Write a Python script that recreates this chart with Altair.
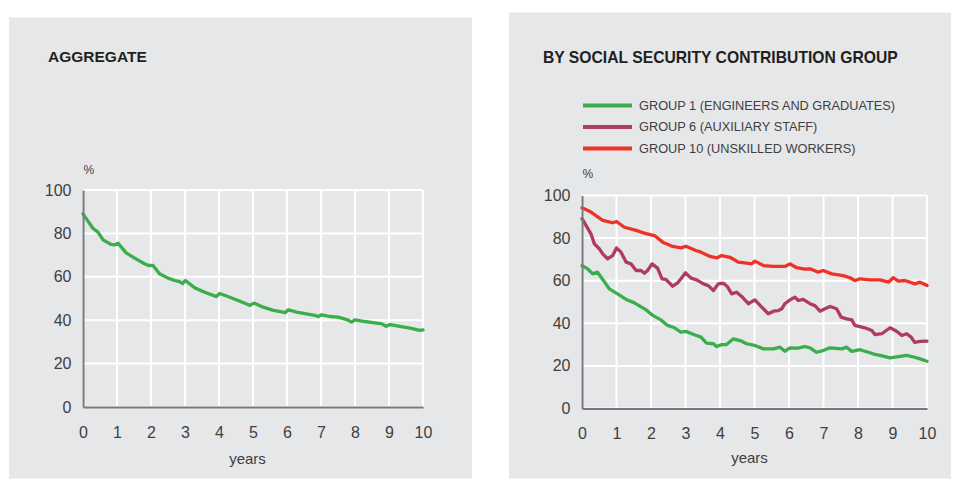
import altair as alt
import pandas as pd

LEFT_TITLE = "AGGREGATE"
RIGHT_TITLE = "BY SOCIAL SECURITY CONTRIBUTION GROUP"
X_LABEL = "years"
Y_LABEL = "%"
X_TICKS = list(range(0, 11))
Y_TICKS = [0, 20, 40, 60, 80, 100]

AGG_YEARS = [0, 0.29, 0.44, 0.59, 0.83, 0.93, 1.03, 1.27, 1.52, 1.81, 1.93, 2.06, 2.25, 2.5,
             2.7, 2.84, 2.93, 3.01, 3.29, 3.58, 3.89, 3.92, 4.02, 4.26, 4.56, 4.85, 4.91, 5.03,
             5.3, 5.6, 5.89, 5.94, 6.04, 6.28, 6.57, 6.82, 6.92, 7.02, 7.26, 7.5, 7.76, 7.9,
             8.0, 8.29, 8.64, 8.79, 8.91, 9.03, 9.32, 9.62, 9.91, 10.0]
AGG_VALUES = [89.0, 82.4, 80.6, 77.0, 74.9, 74.7, 75.5, 71.0, 68.6, 66.0, 65.2, 65.2, 61.4, 59.4,
              58.3, 57.8, 56.9, 58.3, 54.9, 52.9, 51.1, 50.9, 52.3, 50.9, 49.1, 47.2, 46.8, 47.9,
              46.0, 44.5, 43.7, 43.4, 44.8, 43.7, 42.9, 42.2, 41.7, 42.5, 41.7, 41.4, 40.3, 39.1,
              40.2, 39.4, 38.6, 38.3, 37.2, 38.0, 37.2, 36.3, 35.3, 35.5]

GROUP_NAMES = ["GROUP 1 (ENGINEERS AND GRADUATES)", "GROUP 6 (AUXILIARY STAFF)",
               "GROUP 10 (UNSKILLED WORKERS)"]
GROUP_COLORS = ["#39ae4a", "#b03a62", "#ee3326"]

G1_YEARS = [0, 0.16, 0.31, 0.45, 0.6, 0.79, 1.03, 1.28, 1.52, 1.86, 2.05, 2.29, 2.48, 2.68,
            2.87, 3.01, 3.26, 3.45, 3.61, 3.81, 3.9, 4.05, 4.19, 4.39, 4.63, 4.77, 5.01, 5.26,
            5.55, 5.74, 5.88, 6.03, 6.27, 6.46, 6.61, 6.8, 6.99, 7.19, 7.53, 7.67, 7.82, 8.06,
            8.3, 8.49, 8.64, 8.93, 9.17, 9.41, 9.56, 9.8, 10.0]
G1_VALUES = [67.1, 65.6, 63.2, 64.0, 60.6, 56.2, 53.8, 51.2, 49.6, 46.3, 43.7, 41.6, 39.0, 37.9,
             35.8, 36.2, 34.6, 33.5, 30.7, 30.4, 29.1, 30.0, 30.0, 32.7, 31.6, 30.4, 29.6, 28.0,
             28.0, 28.8, 26.9, 28.5, 28.3, 29.1, 28.5, 26.4, 27.2, 28.5, 28.0, 28.8, 26.8, 27.6,
             26.4, 25.4, 24.9, 23.8, 24.4, 24.9, 24.4, 23.3, 22.2]

G6_YEARS = [0, 0.12, 0.26, 0.36, 0.5, 0.6, 0.74, 0.89, 1.0, 1.13, 1.28, 1.42, 1.57, 1.71, 1.81,
            1.9, 2.03, 2.19, 2.32, 2.43, 2.63, 2.77, 2.87, 3.0, 3.16, 3.32, 3.52, 3.66, 3.81,
            3.95, 4.1, 4.21, 4.34, 4.48, 4.63, 4.82, 5.01, 5.21, 5.4, 5.55, 5.69, 5.79, 5.88,
            6.03, 6.17, 6.27, 6.41, 6.61, 6.75, 6.9, 7.04, 7.19, 7.38, 7.51, 7.67, 7.82, 7.91,
            8.2, 8.4, 8.49, 8.69, 8.93, 9.12, 9.27, 9.41, 9.54, 9.64, 9.8, 10.0]
G6_VALUES = [89.1, 85.9, 82.0, 77.3, 75.0, 72.6, 70.3, 71.8, 75.4, 73.4, 68.7, 67.9, 64.8, 64.8,
             63.5, 64.8, 67.9, 65.9, 60.9, 60.6, 57.4, 59.0, 60.9, 63.7, 61.2, 60.4, 58.5, 57.7,
             55.4, 58.5, 58.8, 57.3, 53.8, 54.6, 52.6, 49.2, 51.0, 47.6, 44.5, 45.7, 46.0, 46.8,
             49.2, 51.0, 52.3, 50.7, 51.2, 49.2, 48.3, 45.7, 46.8, 47.9, 46.8, 42.9, 42.1, 41.6,
             39.0, 37.9, 36.6, 34.7, 35.1, 37.9, 36.3, 34.3, 35.1, 33.5, 31.1, 31.5, 31.6]

G10_YEARS = [0, 0.26, 0.6, 0.89, 1.0, 1.23, 1.57, 1.81, 2.0, 2.1, 2.34, 2.63, 2.87, 3.01, 3.3,
             3.45, 3.71, 3.9, 4.05, 4.29, 4.53, 4.77, 4.92, 5.01, 5.26, 5.55, 5.88, 6.03, 6.22,
             6.46, 6.61, 6.85, 6.99, 7.24, 7.57, 7.77, 7.91, 8.06, 8.35, 8.64, 8.88, 9.02, 9.17,
             9.36, 9.65, 9.8, 10.0]
G10_VALUES = [94.2, 92.2, 88.3, 87.2, 87.8, 85.1, 83.6, 82.3, 81.5, 81.2, 78.1, 76.1, 75.4, 76.2,
              74.2, 73.4, 71.4, 70.7, 71.8, 71.0, 68.7, 68.2, 67.9, 69.2, 67.1, 66.7, 66.7, 67.9,
              66.1, 65.4, 65.6, 64.0, 64.8, 63.2, 62.4, 61.4, 60.1, 60.9, 60.4, 60.4, 59.3, 61.4,
              59.8, 60.1, 58.5, 59.3, 57.7]

FONT = "Liberation Sans"
BG = "#e6e7e8"
TEXT = "#404040"
DOMAIN = "#77787b"
GREEN = GROUP_COLORS[0]

agg_df = pd.DataFrame({"year": AGG_YEARS, "value": AGG_VALUES})
grp_df = pd.concat([
    pd.DataFrame({"year": G1_YEARS, "value": G1_VALUES, "group": GROUP_NAMES[0]}),
    pd.DataFrame({"year": G6_YEARS, "value": G6_VALUES, "group": GROUP_NAMES[1]}),
    pd.DataFrame({"year": G10_YEARS, "value": G10_VALUES, "group": GROUP_NAMES[2]}),
], ignore_index=True)

xs = alt.Scale(domain=[0, 10], nice=False, zero=False)
ys_left = alt.Scale(domain=[0, 100], nice=False)
# right plot: shares the row origin with the left one, its value range starts 5.5px lower
ys_right = alt.Scale(domain=[0, 100], nice=False, range=[218.5, 5.5])


def x_axis(title_x, title_y):
    return alt.Axis(values=X_TICKS, grid=False, ticks=False, tickSize=0, domainColor=DOMAIN,
                    domainWidth=2, labelFont=FONT, labelFontSize=16, labelColor=TEXT,
                    labelPadding=17, labelFlush=False, format="d", title=X_LABEL,
                    titleFont=FONT, titleFontSize=15, titleFontWeight="normal", titleColor=TEXT,
                    titleX=title_x, titleY=title_y, titleAlign="center",
                    titleBaseline="middle", zindex=1)


def y_axis(title_y):
    return alt.Axis(values=Y_TICKS, grid=False, ticks=False, tickSize=0, domainColor=DOMAIN,
                    domainWidth=2, labelFont=FONT, labelFontSize=16, labelColor=TEXT,
                    labelPadding=12, labelFlush=False, format="d", title=Y_LABEL,
                    titleFont=FONT, titleFontSize=12, titleFontWeight="normal", titleColor=TEXT,
                    titleAngle=0, titleX=0, titleY=title_y, titleAlign="left",
                    titleBaseline="middle", zindex=1)


def box(x1, x2, y1, y2, fill):
    return alt.Chart(pd.DataFrame({"a": [0]})).mark_rect(color=fill).encode(
        x=alt.value(x1), x2=alt.value(x2), y=alt.value(y1), y2=alt.value(y2))


def grids(ys):
    gx = alt.Chart(pd.DataFrame({"v": X_TICKS})).mark_rule(color="white", strokeWidth=2).encode(
        x=alt.X("v:Q", scale=xs, axis=None),
        y=alt.datum(Y_TICKS[-1], scale=ys, axis=None),
        y2=alt.datum(Y_TICKS[0]))
    gy = alt.Chart(pd.DataFrame({"v": Y_TICKS})).mark_rule(color="white", strokeWidth=2).encode(
        y=alt.Y("v:Q", scale=ys, axis=None))
    return gx, gy


def heading(text, x, y, size):
    return alt.Chart(pd.DataFrame({"t": [text]})).mark_text(
        align="left", baseline="middle", font=FONT, fontSize=size, fontWeight="bold",
        color="#231f20").encode(x=alt.value(x), y=alt.value(y), text="t:N")


# Left panel
gx1, gy1 = grids(ys_left)
left_line = alt.Chart(agg_df).mark_line(color=GREEN, strokeWidth=3.3, strokeJoin="round",
                                        strokeCap="round").encode(
    x=alt.X("year:Q", scale=xs, axis=x_axis(164, 51.5)),
    y=alt.Y("value:Q", scale=ys_left, axis=y_axis(-21)))
left = alt.layer(
    box(-74, 389, -172.5, 288.5, BG),
    gx1, gy1, left_line,
    heading(LEFT_TITLE, -35, -133.5, 15.5),
).resolve_axis(x="independent", y="independent").properties(width=340, height=217)

# Right panel
gx2, gy2 = grids(ys_right)
right_line = alt.Chart(grp_df).mark_line(strokeWidth=3.3, strokeJoin="round",
                                         strokeCap="round").encode(
    x=alt.X("year:Q", scale=xs, axis=x_axis(167, 49)),
    y=alt.Y("value:Q", scale=ys_right, axis=y_axis(-16.5)),
    color=alt.Color("group:N", scale=alt.Scale(domain=GROUP_NAMES, range=GROUP_COLORS),
                    legend=alt.Legend(orient="none", legendX=-1, legendY=-92.5,
                                      direction="vertical", title=None, symbolType="stroke",
                                      symbolStrokeWidth=4, symbolSize=2401, clipHeight=16,
                                      labelFont=FONT, labelFontSize=12.75, labelColor=TEXT,
                                      labelOffset=5, rowPadding=5.5, labelLimit=400,
                                      zindex=1)))
right = alt.layer(
    box(-73, 369, -177.5, 288.5, BG),
    gx2, gy2, right_line,
    heading(RIGHT_TITLE, -39, -132.5, 15.7),
).resolve_axis(x="independent", y="independent").properties(width=345, height=218.5)

chart = alt.hconcat(left, right, spacing=37).resolve_scale(
    color="independent").resolve_legend(color="independent").properties(
    padding={"left": 1, "top": 4, "right": 0, "bottom": 0}
).configure_view(strokeWidth=0)

chart.save("out.html", embed_options={"renderer": "svg", "actions": False})
